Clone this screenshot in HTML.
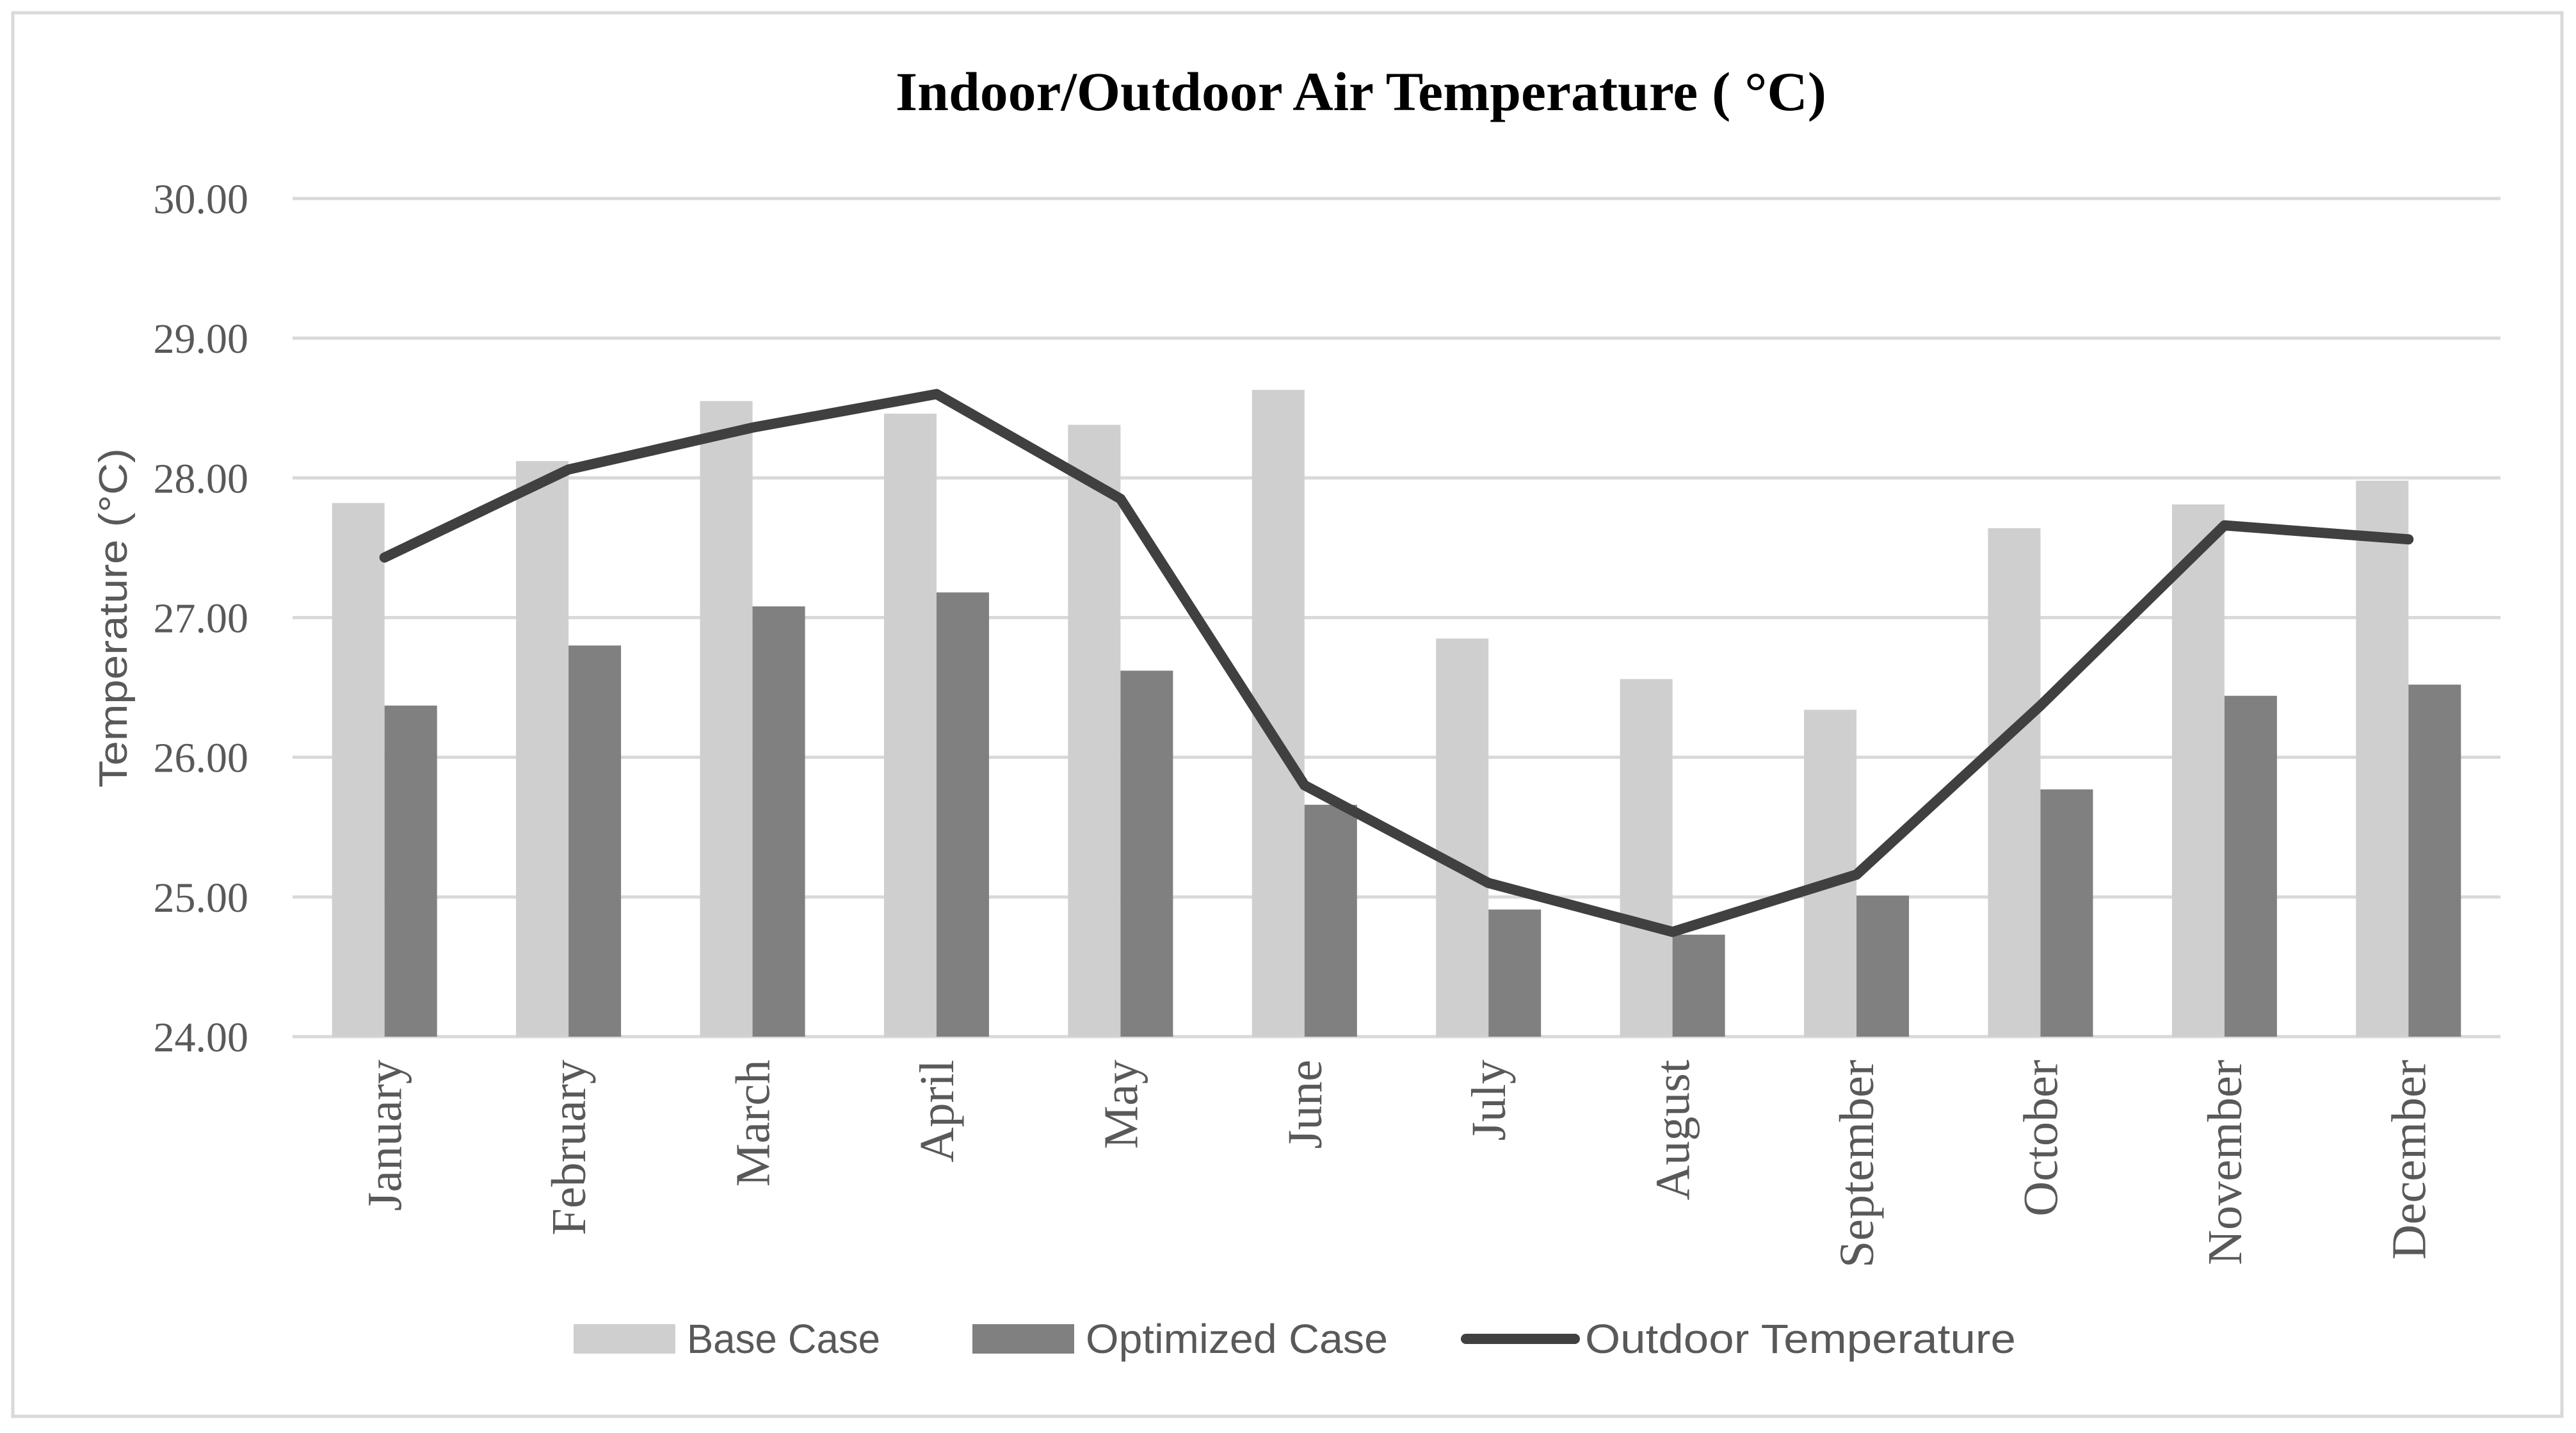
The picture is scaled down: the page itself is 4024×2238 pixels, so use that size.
<!DOCTYPE html>
<html><head><meta charset="utf-8"><style>
html,body{margin:0;padding:0;background:#fff;}
svg{display:block;}
</style></head><body>
<svg id="chart" width="4024" height="2238" viewBox="0 0 4024 2238" xmlns="http://www.w3.org/2000/svg">
<rect x="20" y="20" width="3982" height="2192" fill="#fff" stroke="#d9d9d9" stroke-width="5"/>
<text x="2126" y="172" text-anchor="middle" font-family="Liberation Serif, serif" font-weight="bold" font-size="86" textLength="1454" lengthAdjust="spacingAndGlyphs" fill="#000">Indoor/Outdoor Air Temperature ( °C)</text>
<g id="grid"></g>
<g id="bars"></g>
<g id="line"></g>
<g id="xlabels"></g>
<text transform="translate(198,965) rotate(-90)" text-anchor="middle" font-family="Liberation Sans, sans-serif" font-size="62" textLength="530" lengthAdjust="spacingAndGlyphs" fill="#595959">Temperature (°C)</text>
<g>
<rect x="896" y="2068" width="159" height="46" fill="#d0cfcf"/>
<text x="1073" y="2113" font-family="Liberation Sans, sans-serif" font-size="64" textLength="302" lengthAdjust="spacingAndGlyphs" fill="#595959">Base Case</text>
<rect x="1519" y="2068" width="159" height="46" fill="#808080"/>
<text x="1696" y="2113" font-family="Liberation Sans, sans-serif" font-size="64" textLength="472" lengthAdjust="spacingAndGlyphs" fill="#595959">Optimized Case</text>
<line x1="2290" y1="2091" x2="2460" y2="2091" stroke="#404040" stroke-width="16" stroke-linecap="round"/>
<text x="2476" y="2113" font-family="Liberation Sans, sans-serif" font-size="64" textLength="673" lengthAdjust="spacingAndGlyphs" fill="#595959">Outdoor Temperature</text>
</g>
</svg>
<script>
const categories = ["January","February","March","April","May","June","July","August","September","October","November","December"];
const baseCase = [27.82,28.12,28.55,28.46,28.38,28.63,26.85,26.56,26.34,27.64,27.81,27.98];
const optimizedCase = [26.37,26.80,27.08,27.18,26.62,25.66,24.91,24.73,25.01,25.77,26.44,26.52];
const outdoorTemp = [27.43,28.06,28.36,28.60,27.85,25.80,25.10,24.75,25.16,26.37,27.66,27.56];
const yTicks = [24,25,26,27,28,29,30];
const yTickLabels = ["24.00","25.00","26.00","27.00","28.00","29.00","30.00"];

const NS = "http://www.w3.org/2000/svg";
const plotL = 457, plotR = 3906, plotT = 310, plotB = 1619;
const yMin = 24, yMax = 30;
const y = v => plotB - (v - yMin) / (yMax - yMin) * (plotB - plotT);
const band = (plotR - plotL) / categories.length;
const xc = i => plotL + band * (i + 0.5);
const barW = 82;
function mk(tag, attrs, parent){const e=document.createElementNS(NS,tag);for(const k in attrs)e.setAttribute(k,attrs[k]);parent.appendChild(e);return e;}

const grid = document.getElementById('grid');
yTicks.forEach((t,i)=>{
  const l = mk('line',{x1:plotL,x2:plotR,y1:y(t),y2:y(t),stroke:'#d9d9d9','stroke-width':5},grid);
  
  
  const tx = mk('text',{x:388,y:y(t)+23,'text-anchor':'end','font-family':'Liberation Serif, serif','font-size':66,fill:'#595959'},grid);
  tx.textContent = yTickLabels[i];
  
  
});

const bars = document.getElementById('bars');
categories.forEach((c,i)=>{
  const b = mk('rect',{x:xc(i)-barW,y:y(baseCase[i]),width:barW,height:y(yMin)-y(baseCase[i]),fill:'#d0cfcf'},bars);
  
  
  const o = mk('rect',{x:xc(i),y:y(optimizedCase[i]),width:barW,height:y(yMin)-y(optimizedCase[i]),fill:'#808080'},bars);
  
  
  const lab = mk('text',{transform:`translate(${xc(i)+26},1655) rotate(-90)`,'text-anchor':'end','font-family':'Liberation Serif, serif','font-size':76,fill:'#595959'},document.getElementById('xlabels'));
  lab.textContent = c;
  
  
});

const pts = outdoorTemp.map((v,i)=>xc(i)+','+y(v)).join(' ');
const pl = mk('polyline',{points:pts,fill:'none',stroke:'#404040','stroke-width':16,'stroke-linejoin':'round','stroke-linecap':'round'},document.getElementById('line'));


</script>
</body></html>
